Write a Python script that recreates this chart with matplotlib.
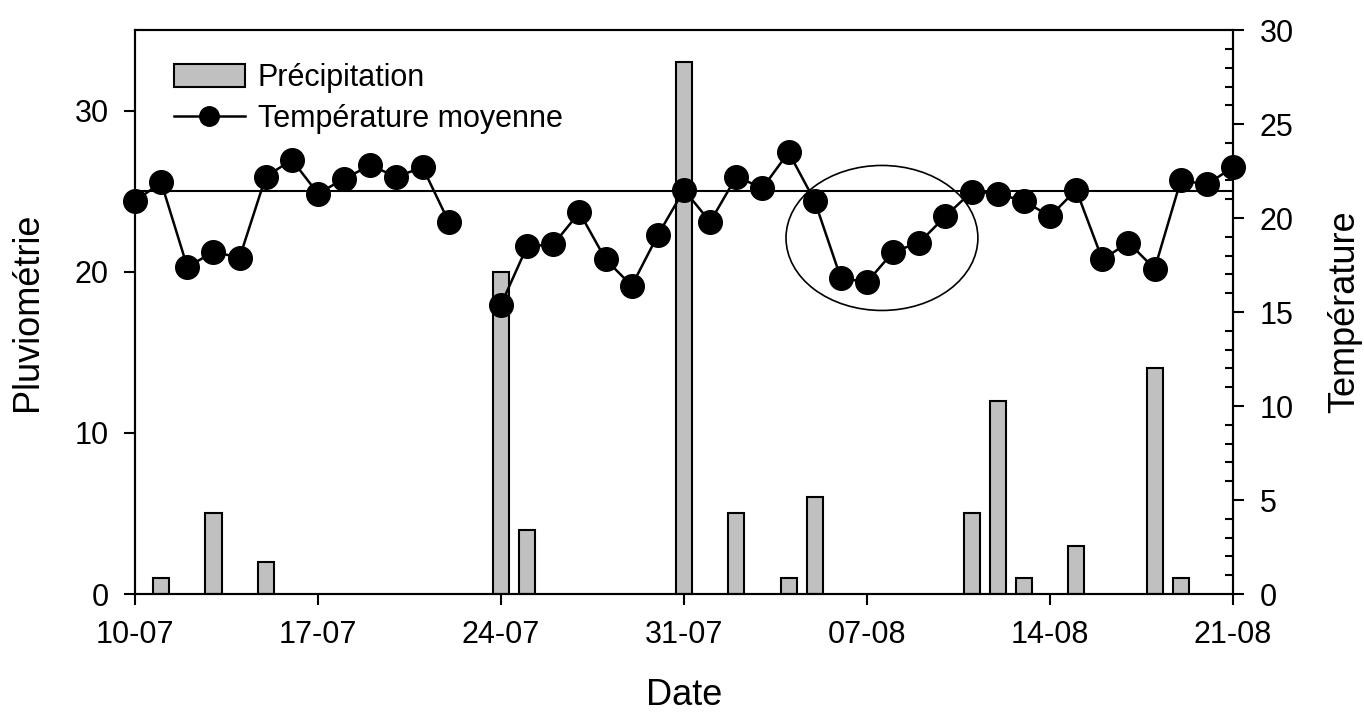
import numpy as np
import matplotlib
matplotlib.use("Agg")
import matplotlib.pyplot as plt
from matplotlib.patches import Ellipse, Patch
from matplotlib.lines import Line2D

plt.rcParams['font.family'] = ['Liberation Sans', 'DejaVu Sans']

# Jours depuis le 10-07
tick_days   = [0, 7, 14, 21, 28, 35, 42]
tick_labels = ['10-07', '17-07', '24-07', '31-07', '07-08', '14-08', '21-08']

# Précipitation (mm)
rain_days = [1, 3, 5, 14, 15, 21, 23, 25, 26, 32, 33, 34, 36, 39, 40]
rain_mm   = [1, 5, 2, 20, 4, 33, 5, 1, 6, 5, 12, 1, 3, 14, 1]

# Température moyenne (°C), jour 13 manquant
temp_days = np.arange(0, 43)
temp_mean = [20.9, 21.9, 17.4, 18.2, 17.9, 22.2, 23.1, 21.3, 22.1, 22.8,
             22.2, 22.7, 19.8, np.nan, 15.4, 18.5, 18.6, 20.3, 17.8, 16.4,
             19.1, 21.5, 19.8, 22.2, 21.6, 23.5, 20.9, 16.8, 16.6, 18.2,
             18.7, 20.1, 21.4, 21.3, 20.9, 20.1, 21.5, 17.8, 18.7, 17.3,
             22.0, 21.8, 22.7]

ref_rain = 25  # ligne horizontale (axe pluviométrie)

fig = plt.figure(figsize=(13.64, 7.17), dpi=100)
ax  = fig.add_axes([0.099, 0.1715, 0.805, 0.7865])
ax2 = ax.twinx()

ax.bar(rain_days, rain_mm, width=0.62, color='#c0c0c0', edgecolor='black', linewidth=1.5, zorder=2)
ax.axhline(ref_rain, color='black', linewidth=1.5, zorder=1)

ax2.plot(temp_days, temp_mean, color='black', linewidth=1.8, marker='o', markersize=17,
         zorder=3, clip_on=False)

# Zone entourée
ax.add_patch(Ellipse((28.57, 22.1), 7.34, 9.0, fill=False, edgecolor='black', linewidth=1.2, zorder=4))

ax.set_xlim(0, 42)
ax.set_ylim(0, 35)
ax2.set_ylim(0, 30)

ax.set_xticks(tick_days)
ax.set_xticklabels(tick_labels)
ax.set_yticks([0, 10, 20, 30])
ax2.set_yticks(np.arange(0, 31, 5))
ax2.set_yticks(np.arange(0, 31, 1), minor=True)

ax.tick_params(axis='both', direction='out', length=8, width=1.5, labelsize=22, pad=11)
ax2.tick_params(axis='y', which='major', direction='out', length=8, width=1.5, labelsize=22, pad=11)
ax2.tick_params(axis='y', which='minor', direction='in', length=6, width=1.5)

for a in (ax, ax2):
    for s in a.spines.values():
        s.set_linewidth(1.5)

ax.set_xlabel('Date', fontsize=26, labelpad=20)
ax.set_ylabel('Pluviométrie', fontsize=26, labelpad=21)
ax2.set_ylabel('Température', fontsize=26, labelpad=24)

handles = [Patch(facecolor='#c0c0c0', edgecolor='black', linewidth=1.5),
           Line2D([], [], color='black', linewidth=1.8, marker='o', markersize=14)]
ax2.legend(handles, ['Précipitation', 'Température moyenne'], loc='upper left',
           bbox_to_anchor=(0.01, 0.99), frameon=False, fontsize=22,
           handlelength=2.35, handleheight=0.75, handletextpad=0.4, labelspacing=0.35)

fig.savefig('out.png', dpi=100)
